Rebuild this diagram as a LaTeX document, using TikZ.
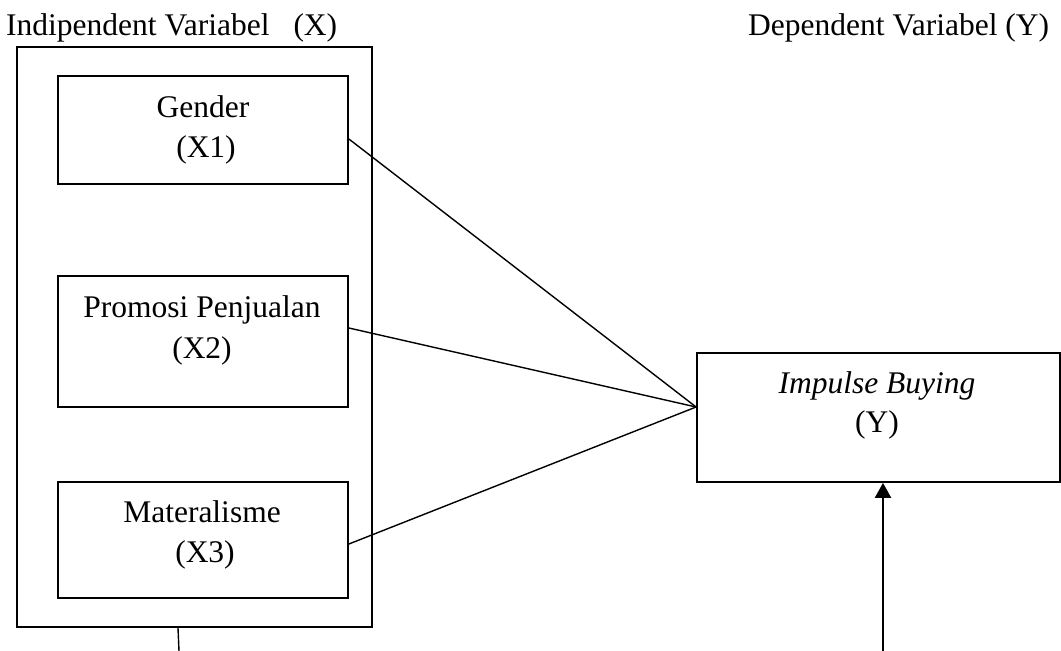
\documentclass[tikz,border=0pt]{standalone}
\usepackage{fontspec}
\setmainfont{Liberation Serif}
\usetikzlibrary{arrows.meta}
\begin{document}
\begin{tikzpicture}[x=1pt,y=-1pt,
  box/.style={draw,line width=1.8pt,minimum width=#1,inner sep=0pt},
  txt/.style={anchor=base,inner sep=0pt,font=\fontsize{31.5}{38}\selectfont},
  link/.style={line width=1.4pt},
  arr/.style={line width=2.4pt,-{Triangle[width=16pt,length=15pt]}}]
\useasboundingbox (0,0) rectangle (1061,651);
% outer box
\node[box=355pt,minimum height=580pt] (outer) at (194.5,337) {};
\node[box=290pt,minimum height=108pt] (g) at (203,130) {};
\node[box=290pt,minimum height=131pt] (p) at (203,341.5) {};
\node[box=290pt,minimum height=116pt] (m) at (203,540) {};
\node[box=363pt,minimum height=129pt] (imp) at (878.5,417.5) {};
% headings
\node[txt,anchor=base west] (hx) at (6,35) {Indipendent Variabel\hspace{24pt}(X)};
\node[txt,anchor=base west] (hy) at (748,35) {Dependent Variabel (Y)};
% box texts
\node[txt] (g1) at (203,117) {Gender};
\node[txt] (g2) at (206,157) {(X1)};
\node[txt] (p1) at (202,317) {Promosi Penjualan};
\node[txt] (p2) at (202,358) {(X2)};
\node[txt] (m1) at (202,522) {Materalisme};
\node[txt] (m2) at (205,562) {(X3)};
\node[txt] (i1) at (877,393) {\itshape Impulse Buying};
\node[txt] (i2) at (877,432) {(Y)};
% connectors
\coordinate (conv) at ([yshift=10.5pt]imp.west);
\draw[link] ([yshift=-9pt]g.east) -- (conv);
\draw[link] ([yshift=13.5pt]p.east) -- (conv);
\draw[link] ([yshift=-4pt]m.east) -- (conv);
\coordinate (b1) at (179,651);
\coordinate (b2) at (883,651);
\draw[link] ([xshift=-16.5pt]outer.south) -- (b1);
\draw[arr] (b2) -- (b2 |- imp.south);
\end{tikzpicture}
\end{document}
